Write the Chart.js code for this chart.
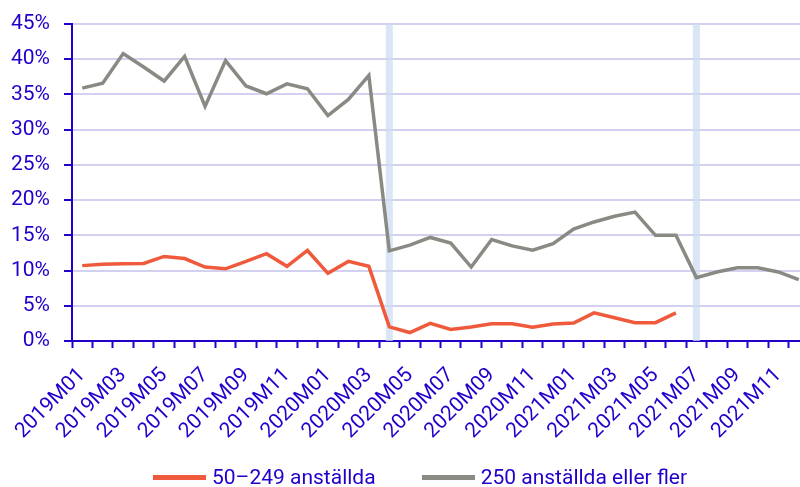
<!DOCTYPE html>
<html>
<head>
<meta charset="utf-8">
<script src="https://cdn.jsdelivr.net/npm/chart.js@4/dist/chart.umd.min.js"></script>
<style>
  html, body { margin: 0; padding: 0; background: #fff; overflow: hidden; }
  #wrap { position: relative; width: 809px; height: 487px; }
  #legend {
    position: absolute; left: 153px; top: 466px; height: 22px;
    display: flex; align-items: center; white-space: nowrap;
    font-family: Roboto, sans-serif; font-size: 21px; color: #2200cc;
  }
  #legend .item { display: flex; align-items: center; margin-right: 46px; }
  #legend .swatch { display: inline-block; width: 53px; height: 5px; margin-right: 6px; }
</style>
</head>
<body>
<div id="wrap">
  <canvas id="chart" width="809" height="487"></canvas>
  <div id="legend"></div>
</div>
<script>
const months = [
  '2019M01','2019M02','2019M03','2019M04','2019M05','2019M06','2019M07','2019M08','2019M09','2019M10','2019M11','2019M12',
  '2020M01','2020M02','2020M03','2020M04','2020M05','2020M06','2020M07','2020M08','2020M09','2020M10','2020M11','2020M12',
  '2021M01','2021M02','2021M03','2021M04','2021M05','2021M06','2021M07','2021M08','2021M09','2021M10','2021M11','2021M12'
];

const medium = [
  10.7, 10.9, 10.95, 11.0, 12.0, 11.7, 10.5, 10.25, 11.3, 12.4, 10.6, 12.85,
  9.6, 11.3, 10.6, 2.0, 1.2, 2.5, 1.65, 2.0, 2.45, 2.45, 1.95, 2.4,
  2.55, 4.0, 3.3, 2.6, 2.6, 4.0, null, null, null, null, null, null
];

const large = [
  35.9, 36.6, 40.8, 38.9, 36.9, 40.4, 33.3, 39.8, 36.2, 35.1, 36.5, 35.8,
  32.0, 34.3, 37.7, 12.8, 13.6, 14.7, 13.9, 10.5, 14.4, 13.5, 12.9, 13.8,
  15.9, 16.9, 17.7, 18.3, 15.0, 15.0, 9.0, 9.8, 10.4, 10.4, 9.8, 8.7
];

// months marked with a light vertical band
const markers = ['2020M04', '2021M07'];

const blue = '#2200cc';
const red = '#f05a3c';
const grey = '#8a8a84';

const bandPlugin = {
  id: 'bands',
  beforeDatasetsDraw(chart) {
    const { ctx, chartArea, scales } = chart;
    ctx.save();
    ctx.fillStyle = 'rgba(205, 220, 242, 0.75)';
    markers.forEach(m => {
      const x = scales.x.getPixelForValue(months.indexOf(m));
      ctx.fillRect(x - 3.5, chartArea.top, 7, chartArea.bottom - chartArea.top);
    });
    ctx.restore();
  }
};

const ctx = document.getElementById('chart').getContext('2d');

const chart = new Chart(ctx, {
  type: 'line',
  data: {
    labels: months,
    datasets: [
      {
        label: '50\u2013249 anställda',
        data: medium,
        borderColor: red,
        backgroundColor: red,
        borderWidth: 3.5,
        pointRadius: 0,
        tension: 0
      },
      {
        label: '250 anställda eller fler',
        data: large,
        borderColor: grey,
        backgroundColor: grey,
        borderWidth: 3.5,
        pointRadius: 0,
        tension: 0
      }
    ]
  },
  options: {
    responsive: false,
    animation: false,
    layout: { padding: { top: 24, left: 0, right: 0, bottom: 42 } },
    scales: {
      x: {
        offset: true,
        grid: {
          offset: true,
          drawOnChartArea: false,
          tickLength: 7,
          tickColor: blue,
          tickWidth: 2
        },
        border: { color: blue, width: 2 },
        ticks: {
          autoSkip: false,
          maxRotation: 45,
          minRotation: 45,
          color: blue,
          padding: 15,
          font: { family: 'Roboto', size: 21 },
          callback: (v, i) => (i % 2 === 0 ? months[i] : '')
        },
        afterFit: s => {
          s.height = 104;
          s.paddingLeft = 0;
          s.paddingRight = 0;
        }
      },
      y: {
        min: 0,
        max: 45,
        grid: {
          color: '#d2d2f0',
          lineWidth: 2,
          tickLength: 8,
          tickColor: blue,
          tickWidth: 2
        },
        border: { color: blue, width: 2 },
        ticks: {
          stepSize: 5,
          color: blue,
          padding: 14,
          font: { family: 'Roboto', size: 21 },
          callback: v => v + '%'
        },
        afterFit: s => {
          s.width = 72;
          s.paddingTop = 0;
          s.paddingBottom = 0;
        }
      }
    },
    plugins: {
      legend: { display: false },
      tooltip: { enabled: false }
    }
  },
  plugins: [bandPlugin]
});

// legend built from the dataset labels and colours
const legendEl = document.getElementById('legend');
chart.data.datasets.forEach(ds => {
  const item = document.createElement('span');
  item.className = 'item';
  const sw = document.createElement('span');
  sw.className = 'swatch';
  sw.style.background = ds.borderColor;
  item.appendChild(sw);
  item.appendChild(document.createTextNode(ds.label));
  legendEl.appendChild(item);
});
</script>
</body>
</html>
